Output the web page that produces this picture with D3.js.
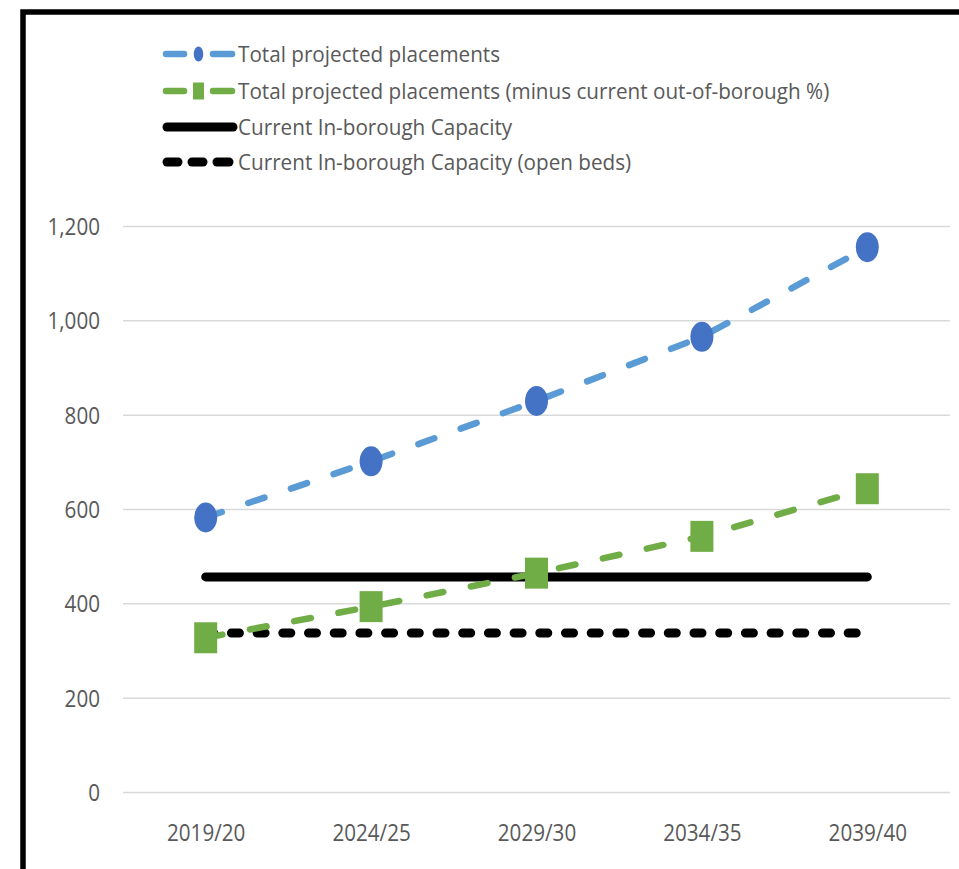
<!DOCTYPE html>
<html>
<head>
<meta charset="utf-8">
<script src="https://cdn.jsdelivr.net/npm/d3@7"></script>
<style>
  body { margin: 0; background: #fff; }
  svg { display: block; font-family: "Open Sans", "Liberation Sans", sans-serif; }
</style>
</head>
<body>
<svg width="959" height="869"></svg>
<script>
const years = ["2019/20", "2024/25", "2029/30", "2034/35", "2039/40"];
const totalPlacements = [582, 701, 829, 965, 1155];
const minusOutOfBorough = [327, 393, 464, 542, 643];
const inBoroughCapacity = [456, 456, 456, 456, 456];
const openBeds = [337, 337, 337, 337, 337];
const yTicks = [0, 200, 400, 600, 800, 1000, 1200];

const svg = d3.select("svg"),
      plotLeft = 123, plotRight = 950, plotTop = 226, plotBottom = 792;

svg.append("rect").attr("width", 959).attr("height", 869).attr("fill", "#fff");

// frame (top + left only, the rest is cropped off)
svg.append("path")
  .attr("d", "M23,869V12H959")
  .attr("fill", "none")
  .attr("stroke", "#000")
  .attr("stroke-width", 5.5);

const x = d3.scalePoint().domain(years).range([plotLeft, plotRight]).padding(0.5);
const y = d3.scaleLinear().domain([0, 1200]).range([plotBottom, plotTop]);

const tickFont = 24, tickSquash = 0.86;

// y gridlines + labels
const yAxis = svg.append("g")
  .attr("transform", `translate(${plotLeft},0)`)
  .call(d3.axisLeft(y).tickValues(yTicks).tickSize(-(plotRight - plotLeft)).tickFormat(d3.format(",")))
  .attr("font-family", null)
  .attr("font-size", null);
yAxis.select(".domain").remove();
yAxis.selectAll(".tick line").attr("stroke", "#d9d9d9").attr("stroke-width", 1.5);
yAxis.selectAll(".tick text")
  .attr("x", 0)
  .attr("dy", "0.35em")
  .attr("transform", `translate(-23,0) scale(${tickSquash},1)`)
  .attr("fill", "#595959")
  .attr("font-size", tickFont);

// x labels
const xAxis = svg.append("g")
  .attr("transform", `translate(0,${plotBottom})`)
  .call(d3.axisBottom(x).tickSize(0))
  .attr("font-family", null)
  .attr("font-size", null);
xAxis.select(".domain").remove();
xAxis.selectAll(".tick text")
  .attr("y", 0)
  .attr("dy", "0.35em")
  .attr("transform", `translate(0,41) scale(${tickSquash},1)`)
  .attr("fill", "#595959")
  .attr("font-size", tickFont);

const line = d3.line().x(d => d[0]).y(d => d[1]);
const pts = vals => years.map((yr, i) => [x(yr), y(vals[i])]);

// capacity lines
svg.append("path")
  .attr("d", line(pts(inBoroughCapacity)))
  .attr("fill", "none").attr("stroke", "#000")
  .attr("stroke-width", 9).attr("stroke-linecap", "round");

svg.append("path")
  .attr("d", line(pts(openBeds)))
  .attr("fill", "none").attr("stroke", "#000")
  .attr("stroke-width", 9).attr("stroke-linecap", "round")
  .attr("stroke-dasharray", "8,17.7");

// projected placements (minus out-of-borough)
svg.append("path")
  .attr("d", line(pts(minusOutOfBorough)))
  .attr("fill", "none").attr("stroke", "#70ad47")
  .attr("stroke-width", 6.5).attr("stroke-linecap", "round")
  .attr("stroke-dasharray", "17,28");

svg.append("g").selectAll("rect")
  .data(minusOutOfBorough)
  .join("rect")
    .attr("x", (d, i) => x(years[i]) - 11.5)
    .attr("y", d => y(d) - 15.5)
    .attr("width", 23)
    .attr("height", 31)
    .attr("fill", "#70ad47");

// total projected placements
svg.append("path")
  .attr("d", line(pts(totalPlacements)))
  .attr("fill", "none").attr("stroke", "#5b9bd5")
  .attr("stroke-width", 6.5).attr("stroke-linecap", "round")
  .attr("stroke-dasharray", "17,28");

svg.append("g").selectAll("ellipse")
  .data(totalPlacements)
  .join("ellipse")
    .attr("cx", (d, i) => x(years[i]))
    .attr("cy", d => y(d))
    .attr("rx", 11.5)
    .attr("ry", 15)
    .attr("fill", "#4472c4");

// Legend
const legendItems = [
  {label: "Total projected placements", color: "#5b9bd5", mark: "circle", dash: true},
  {label: "Total projected placements (minus current out-of-borough %)", color: "#70ad47", mark: "square", dash: true},
  {label: "Current In-borough Capacity", color: "#000", mark: null, dash: false},
  {label: "Current In-borough Capacity (open beds)", color: "#000", mark: null, dash: "black"}
];
const legendY = [54, 91, 127, 162];

const legend = svg.append("g").selectAll("g")
  .data(legendItems)
  .join("g")
    .attr("transform", (d, i) => `translate(163,${legendY[i]})`);

legend.each(function(d) {
  const g = d3.select(this);
  if (d.dash === true) {
    g.append("line").attr("x1", 3).attr("x2", 21)
      .attr("stroke", d.color).attr("stroke-width", 6.5).attr("stroke-linecap", "round");
    g.append("line").attr("x1", 50).attr("x2", 69)
      .attr("stroke", d.color).attr("stroke-width", 6.5).attr("stroke-linecap", "round");
  } else if (d.dash === "black") {
    [[4, 15], [29, 40], [54, 66]].forEach(([a, b]) => {
      g.append("line").attr("x1", a).attr("x2", b)
        .attr("stroke", "#000").attr("stroke-width", 9).attr("stroke-linecap", "round");
    });
  } else {
    g.append("line").attr("x1", 4).attr("x2", 70)
      .attr("stroke", "#000").attr("stroke-width", 9).attr("stroke-linecap", "round");
  }
  if (d.mark === "circle") {
    g.append("ellipse").attr("cx", 35.5).attr("rx", 4.8).attr("ry", 7.5).attr("fill", "#4472c4");
  } else if (d.mark === "square") {
    g.append("rect").attr("x", 30).attr("y", -8.5).attr("width", 11).attr("height", 17).attr("fill", "#70ad47");
  }
  g.append("text")
    .attr("transform", "translate(75,0) scale(0.94,1)")
    .attr("dy", "0.35em")
    .attr("fill", "#595959")
    .attr("font-size", 22)
    .text(d.label);
});
</script>
</body>
</html>
